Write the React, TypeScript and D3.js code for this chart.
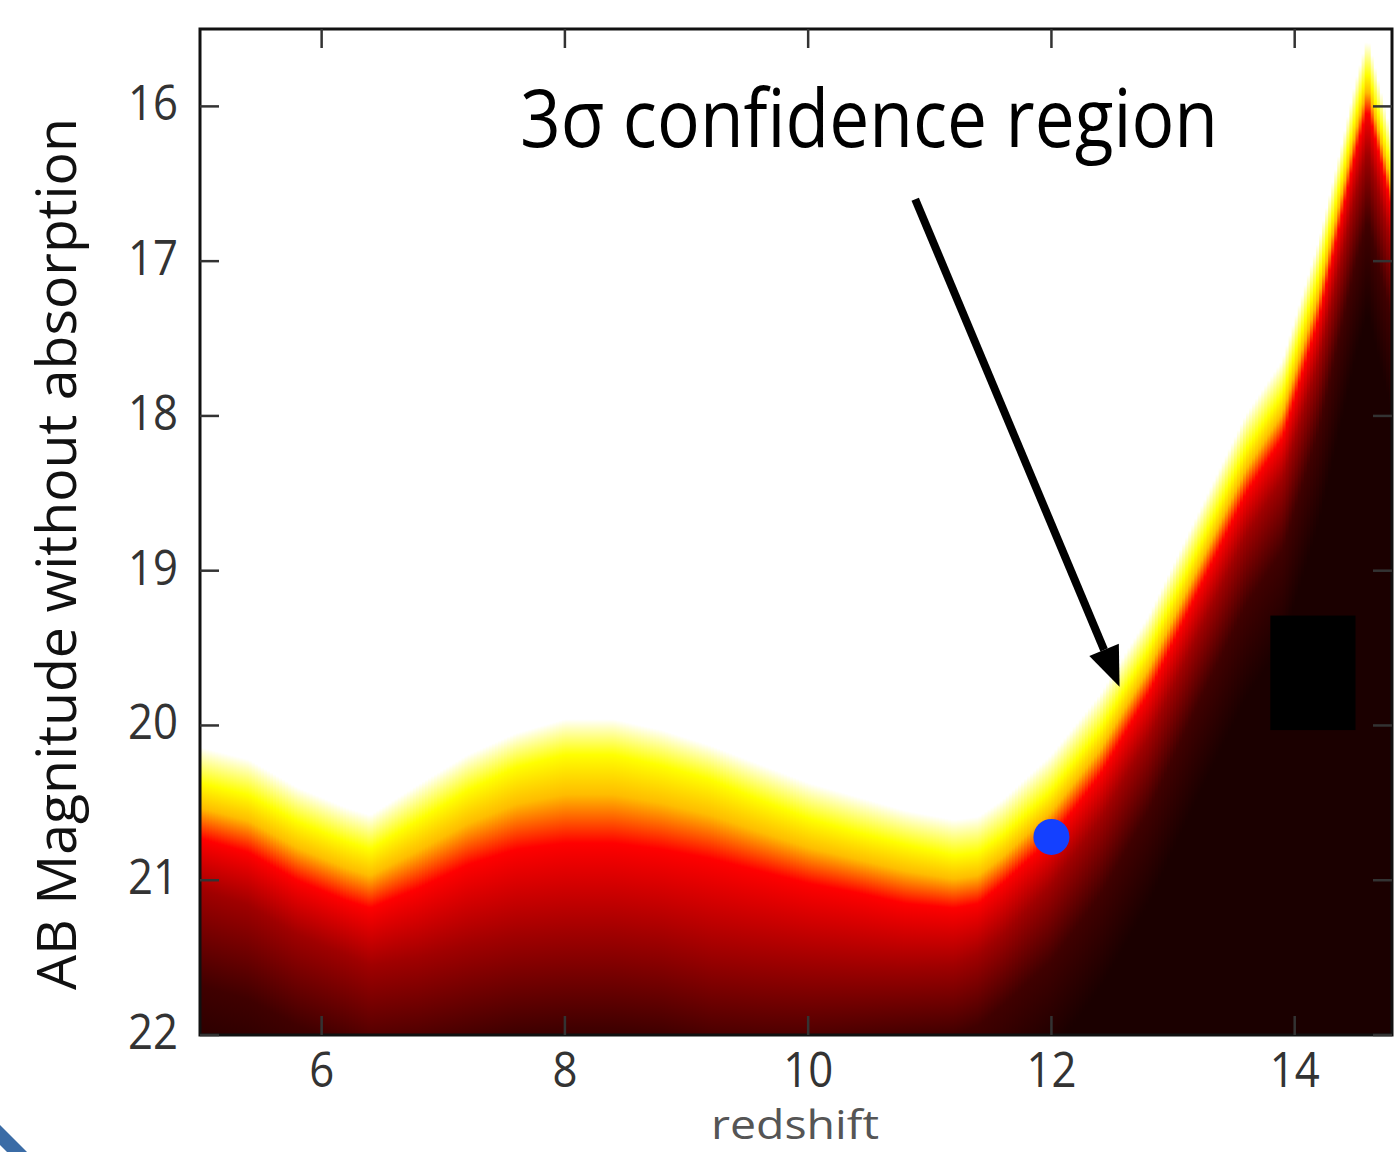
import React from 'react'
import * as d3 from 'd3'

const redshiftGrid = [5.0, 5.4, 5.8, 6.2, 6.4, 6.8, 7.2, 7.6, 8.0, 8.4, 8.8, 9.2, 9.6, 10.0, 10.4, 10.8, 11.2, 11.4, 11.6, 12.0, 12.4, 12.8, 13.2, 13.6, 13.9, 14.2, 14.4, 14.5, 14.6, 14.7, 14.8]
// magnitude where the map leaves white
const whiteEdge = [20.14, 20.22, 20.4, 20.53, 20.58, 20.38, 20.19, 20.05, 19.96, 19.96, 20.03, 20.13, 20.25, 20.37, 20.46, 20.55, 20.61, 20.59, 20.48, 20.19, 19.8, 19.29, 18.64, 17.99, 17.64, 16.86, 16.2, 15.84, 15.55, 15.87, 16.2]
// pure yellow
const yellowEdge = [20.37, 20.45, 20.62, 20.75, 20.8, 20.61, 20.42, 20.27, 20.19, 20.19, 20.26, 20.35, 20.48, 20.6, 20.69, 20.77, 20.84, 20.82, 20.71, 20.42, 20.03, 19.51, 18.87, 18.22, 17.86, 17.09, 16.41, 16.06, 15.76, 16.09, 16.41]
// pure red
const redLevel = [20.73, 20.82, 21.0, 21.13, 21.18, 21.05, 20.9, 20.8, 20.76, 20.76, 20.8, 20.86, 20.94, 21.02, 21.08, 21.15, 21.18, 21.15, 21.02, 20.73, 20.32, 19.79, 19.14, 18.5, 18.14, 17.37, 16.66, 16.3, 16.01, 16.33, 16.66]
// dark red
const darkRedLevel = [21.06, 21.16, 21.35, 21.48, 21.55, 21.5, 21.42, 21.36, 21.34, 21.34, 21.38, 21.46, 21.5, 21.53, 21.55, 21.56, 21.55, 21.48, 21.35, 21.03, 20.61, 20.08, 19.42, 18.77, 18.41, 17.64, 16.93, 16.57, 16.28, 16.6, 16.93]
// almost black
const darkLevel = [21.68, 21.77, 21.94, 22.06, 22.13, 22.1, 22.04, 21.98, 21.96, 21.96, 21.99, 22.06, 22.08, 22.08, 22.05, 22.02, 22.0, 21.94, 21.81, 21.52, 21.1, 20.55, 19.87, 19.22, 18.87, 18.09, 17.38, 17.02, 16.73, 17.06, 17.38]
const levelColors = ['#ffffff', '#ffff00', '#ff0000', '#a00000', '#400000', '#1b0000']

const xTicks = [6, 8, 10, 12, 14]
const yTicks = [16, 17, 18, 19, 20, 21, 22]

const observed = [12.0, 20.72] // blue dot
const maskZ = [13.8, 14.5]
const maskMag = [19.29, 20.03]
const arrowFrom = [10.88, 16.6]
const arrowTo = [12.56, 19.75]

const font = '"Open Sans", Lato, sans-serif'

export default function App() {
  const x = d3.scaleLinear().domain([5, 14.8]).range([200, 1392])
  const y = d3.scaleLinear().domain([15.5, 22]).range([29, 1035])

  const lv = (arr: number[]) => d3.scaleLinear().domain(redshiftGrid).range(arr).clamp(true)
  const levels = [whiteEdge, yellowEdge, redLevel, darkRedLevel, darkLevel].map(lv)

  const step = 0.025
  const cols = d3.range(5, 14.8, step)

  // arrow geometry
  const ax0 = x(arrowFrom[0]), ay0 = y(arrowFrom[1])
  const ax1 = x(arrowTo[0]), ay1 = y(arrowTo[1])
  const ang = Math.atan2(ay1 - ay0, ax1 - ax0)
  const headLen = 40, headW = 16
  const bx = ax1 - headLen * Math.cos(ang), by = ay1 - headLen * Math.sin(ang)
  const head = [
    [ax1, ay1],
    [bx + headW * Math.sin(ang), by - headW * Math.cos(ang)],
    [bx - headW * Math.sin(ang), by + headW * Math.cos(ang)]
  ]

  return (
    <svg width={1398} height={1152} style={{ position: 'absolute', left: 0, top: 0, display: 'block', background: '#fff' }}>
      <defs>
        <clipPath id="plot">
          <rect x={200} y={29} width={1192} height={1006} />
        </clipPath>
        {cols.map((c, i) => {
          const zc = c + step / 2
          const ms = levels.map(f => f(zc))
          const ps = ms.map(m => y(m))
          ps.push(y(ms[4] + 0.6))
          const span = ps[5] - ps[0]
          const off = (p: number) => (p - ps[0]) / span
          // yellow holds a little before turning orange
          const mid = ps[1] + 0.45 * (ps[2] - ps[1])
          return (
            <linearGradient key={i} id={'col' + i} gradientUnits="userSpaceOnUse" x1={0} x2={0} y1={ps[0]} y2={ps[5]}>
              <stop offset={0} stopColor={levelColors[0]} />
              <stop offset={off(ps[1])} stopColor={levelColors[1]} />
              <stop offset={off(mid)} stopColor="#ffbc00" />
              {ps.slice(2).map((p, j) => (
                <stop key={j} offset={off(p)} stopColor={levelColors[j + 2]} />
              ))}
            </linearGradient>
          )
        })}
      </defs>

      <g clipPath="url(#plot)">
        {cols.map((c, i) => (
          <rect key={i} x={x(c)} y={29} width={x(c + step) - x(c) + 1.2} height={1006} fill={`url(#col${i})`} />
        ))}
        <rect x={x(maskZ[0])} y={y(maskMag[0])} width={x(maskZ[1]) - x(maskZ[0])} height={y(maskMag[1]) - y(maskMag[0])} fill="#000" />
        <circle cx={x(observed[0])} cy={y(observed[1])} r={18} fill="#1440ff" />
      </g>

      {/* frame and inward ticks */}
      <rect x={200} y={29} width={1192} height={1006} fill="none" stroke="#111" strokeWidth={3} />
      {xTicks.map(t => (
        <g key={'x' + t} stroke="#333" strokeWidth={2.5}>
          <line x1={x(t)} x2={x(t)} y1={29} y2={48} />
          <line x1={x(t)} x2={x(t)} y1={1035} y2={1016} />
        </g>
      ))}
      {yTicks.map(t => (
        <g key={'y' + t} stroke="#333" strokeWidth={2.5}>
          <line x1={200} x2={219} y1={y(t)} y2={y(t)} />
          <line x1={1392} x2={1373} y1={y(t)} y2={y(t)} />
        </g>
      ))}

      {xTicks.map(t => (
        <text key={'xl' + t} x={x(t)} y={1087} textAnchor="middle" fontFamily={font} fontSize={50} fill="#333"
          textLength={String(t).length * 25} lengthAdjust="spacingAndGlyphs">{t}</text>
      ))}
      {yTicks.map(t => (
        <text key={'yl' + t} x={178} y={y(t) + 14} textAnchor="end" fontFamily={font} fontSize={50} fill="#333"
          textLength={String(t).length * 25} lengthAdjust="spacingAndGlyphs">{t}</text>
      ))}

      <text x={795} y={1139} textAnchor="middle" fontFamily={font} fontSize={40} fill="#555"
        textLength={168} lengthAdjust="spacingAndGlyphs">redshift</text>
      <text transform="translate(76,554) rotate(-90)" textAnchor="middle" fontFamily={font} fontSize={54} fill="#111"
        textLength={872} lengthAdjust="spacingAndGlyphs">AB Magnitude without absorption</text>

      {/* annotation */}
      <text x={520} y={147} fontFamily={font} fontSize={80} fill="#000" textLength={698} lengthAdjust="spacingAndGlyphs">3σ confidence region</text>
      <line x1={ax0} y1={ay0} x2={bx} y2={by} stroke="#000" strokeWidth={8} />
      <polygon points={head.map(p => p.join(',')).join(' ')} fill="#000" />

      {/* slide decoration in the corner */}
      <polygon points="0,1125 27,1152 7,1152 0,1145" fill="#3b6ca6" />
    </svg>
  )
}
